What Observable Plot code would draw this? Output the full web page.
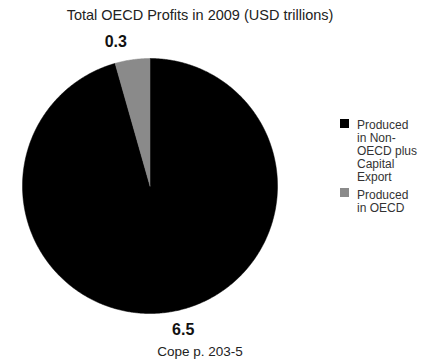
<!DOCTYPE html>
<html>
<head>
<meta charset="utf-8">
<script src="https://cdn.jsdelivr.net/npm/d3@7"></script>
<script src="https://cdn.jsdelivr.net/npm/@observablehq/plot@0.6"></script>
<style>
  html, body { margin: 0; padding: 0; background: #fff; }
  body { font-family: "Liberation Sans", Arial, sans-serif; }
  #wrap { position: relative; width: 428px; height: 364px; overflow: hidden; }
  #title { width: 400px; height: 21.5px; padding-top: 6.5px; font-size: 14.5px; line-height: 17px; text-align: center; color: #222; }
  #caption { width: 400px; padding-top: 6.3px; font-size: 13.5px; line-height: 16px; text-align: center; color: #222; }
  #legend { position: absolute; left: 340px; top: 119px; font-size: 12px; line-height: 13px; color: #333; }
  .item { position: relative; margin-bottom: 4px; }
  .sw { position: absolute; left: 0; top: 0; width: 9px; height: 9px; }
  .lab { margin-left: 17px; width: 62px; padding-top: 0.3px; }
  svg { display: block; }
</style>
</head>
<body>
<div id="wrap">
  <div id="title"></div>
  <div id="chart"></div>
  <div id="caption"></div>
  <div id="legend"></div>
</div>
<script>
const titleText = "Total OECD Profits in 2009 (USD trillions)";
const captionText = "Cope p. 203-5";
const categories = ["Produced in Non-OECD plus Capital Export", "Produced in OECD"];
const values = [6.5, 0.3];
const valueLabels = ["6.5", "0.3"];
const colors = ["#000000", "#8a8a8a"];

document.getElementById("title").textContent = titleText;
document.getElementById("caption").textContent = captionText;

const slices = categories.map((c, i) => ({category: c, value: values[i], label: valueLabels[i]}));
const arcs = d3.pie().sort(null).value(d => d.value)(slices);

// polygon outline points for each slice (center + arc)
const pts = [];
arcs.forEach(a => {
  const cat = a.data.category;
  pts.push({category: cat, x: 0, y: 0});
  const n = Math.max(2, Math.ceil((a.endAngle - a.startAngle) / (Math.PI / 360)));
  for (let k = 0; k <= n; k++) {
    const t = a.startAngle + (a.endAngle - a.startAngle) * k / n;
    pts.push({category: cat, x: Math.sin(t), y: Math.cos(t)});
  }
  pts.push({category: cat, x: 0, y: 0});
});

const labelR = 1.14;
const labels = arcs.map(a => {
  const m = (a.startAngle + a.endAngle) / 2;
  return {label: a.data.label, x: labelR * Math.sin(m), y: labelR * Math.cos(m), side: Math.sin(m)};
});

const plot = Plot.plot({
  width: 428,
  height: 310,
  margin: 0,
  x: {domain: [-1, 1], range: [22, 277], axis: null},
  y: {domain: [-1, 1], range: [285, 30], axis: null},
  color: {type: "ordinal", domain: categories, range: colors},
  style: {fontFamily: "Liberation Sans, Arial, sans-serif", background: "white"},
  marks: [
    Plot.line(pts, {x: "x", y: "y", z: "category", fill: "category", stroke: "category", strokeWidth: 0.5, curve: "linear"}),
    Plot.text(labels.filter(d => d.side < 0), {x: "x", y: "y", text: "label", textAnchor: "end", dx: -3, fontSize: 16, fontWeight: "bold", fill: "#111"}),
    Plot.text(labels.filter(d => d.side >= 0), {x: "x", y: "y", text: "label", textAnchor: "start", dx: 2, fontSize: 16, fontWeight: "bold", fill: "#111"})
  ]
});
document.getElementById("chart").appendChild(plot);

const legend = document.getElementById("legend");
categories.forEach((c, i) => {
  const item = document.createElement("div");
  item.className = "item";
  const sw = document.createElement("div");
  sw.className = "sw";
  sw.style.background = colors[i];
  const lab = document.createElement("div");
  lab.className = "lab";
  lab.textContent = c;
  item.appendChild(sw);
  item.appendChild(lab);
  legend.appendChild(item);
});
</script>
</body>
</html>
